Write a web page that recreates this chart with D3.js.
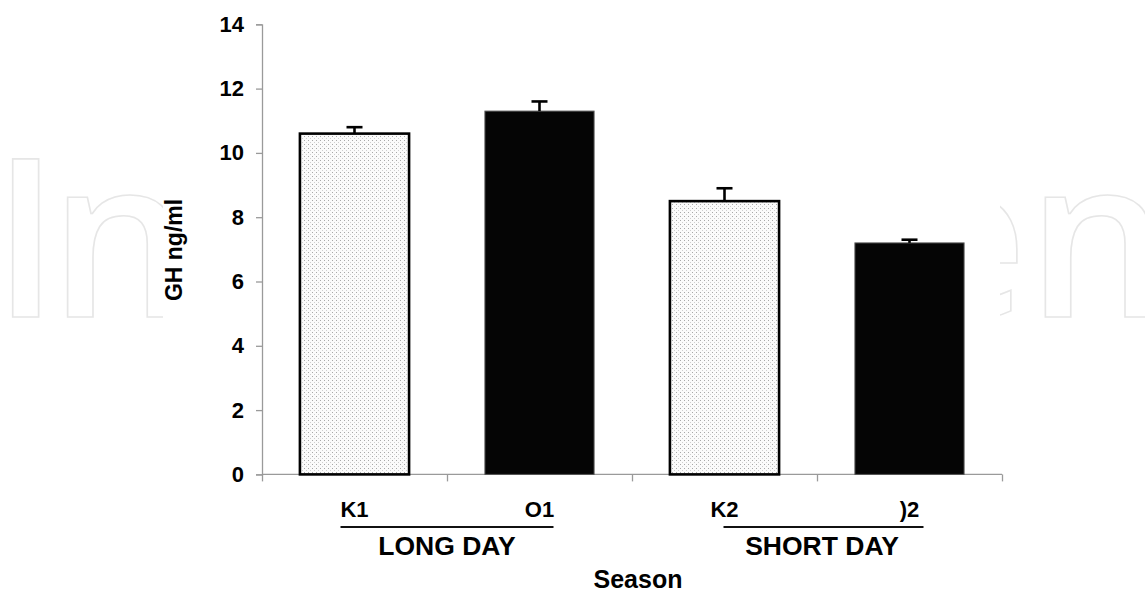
<!DOCTYPE html>
<html><head><meta charset="utf-8">
<script src="https://cdn.jsdelivr.net/npm/d3@7"></script>
<style>body{margin:0;background:#fff}svg{display:block}</style>
</head><body>
<script>
const categories = ["K1", "O1", "K2", ")2"];
const values = [10.6, 11.3, 8.5, 7.2];
const errors = [0.2, 0.3, 0.4, 0.1];
const fills = ["dots", "solid", "dots", "solid"];
const groups = [
  {label: "LONG DAY", from: 0, to: 1},
  {label: "SHORT DAY", from: 2, to: 3}
];
const yTicks = [0, 2, 4, 6, 8, 10, 12, 14];
const yTitle = "GH ng/ml";
const xTitle = "Season";

const W = 1145, H = 593;
const svg = d3.select("body").append("svg").attr("width", W).attr("height", H);
const defs = svg.append("defs");
const pat = defs.append("pattern").attr("id", "dots").attr("patternUnits", "userSpaceOnUse")
  .attr("width", 4).attr("height", 4);
pat.append("rect").attr("width", 4).attr("height", 4).attr("fill", "#fbfbfb");
pat.append("rect").attr("x", 0).attr("y", 0).attr("width", 1).attr("height", 1).attr("fill", "#a8a8a8");
pat.append("rect").attr("x", 2).attr("y", 2).attr("width", 1).attr("height", 1).attr("fill", "#cfcfcf");
defs.append("clipPath").attr("id", "page").append("rect").attr("width", W).attr("height", H);

// watermark
const wm = svg.append("g").attr("clip-path", "url(#page)").attr("fill", "none").attr("stroke", "#e6e6e6").attr("stroke-width", 1.6)
  .style("font-family", "'Open Sans', sans-serif").style("font-weight", 600).style("font-size", "221px");
wm.append("text").attr("x", -8).attr("y", 317).style("letter-spacing", "-10px").text("In");
wm.append("text").attr("x", 900).attr("y", 317).text("en");
svg.append("rect").attr("x", 163).attr("y", 0).attr("width", 837).attr("height", H).attr("fill", "#fff");

const x0 = 262, x1 = 1002, yTop = 24.3, yBot = 474.4;
const x = d3.scaleBand().domain(categories).range([x0, x1]).padding(0);
const xi = d3.scaleLinear().domain([0, categories.length]).range([x0, x1]);
const y = d3.scaleLinear().domain([0, 14]).range([yBot, yTop]);
const font = "'Liberation Sans', Arial, sans-serif";

// y axis
const ya = svg.append("g").attr("transform", `translate(${x0},0)`)
  .call(d3.axisLeft(y).tickValues(yTicks).tickSize(6).tickPadding(12).tickFormat(d3.format("d")));
ya.select(".domain").attr("stroke", "#9a9a9a").attr("stroke-width", 1.3);
ya.selectAll(".tick line").attr("stroke", "#9a9a9a").attr("stroke-width", 1.3);
ya.selectAll(".tick text").attr("fill", "#000").style("font-family", font).style("font-weight", "bold").style("font-size", "22px");

// x axis
const xa = svg.append("g").attr("transform", `translate(0,${yBot})`)
  .call(d3.axisBottom(xi).tickValues(d3.range(categories.length + 1)).tickSize(7).tickFormat(""));
xa.select(".domain").attr("stroke", "#9a9a9a").attr("stroke-width", 1.3).attr("d", `M${x0},0H${x1}`);
xa.selectAll(".tick line").attr("stroke", "#9a9a9a").attr("stroke-width", 1.3);

// bars
const bw = x.bandwidth() * 0.59;
const bars = svg.append("g");
categories.forEach((c, i) => {
  const cx = x(c) + x.bandwidth() / 2;
  const top = y(values[i]);
  if (fills[i] === "dots") {
    bars.append("rect").attr("x", cx - bw / 2).attr("y", top).attr("width", bw).attr("height", y(0) - top)
      .attr("fill", "url(#dots)").attr("stroke", "#000").attr("stroke-width", 2.6);
  } else {
    bars.append("rect").attr("x", cx - bw / 2).attr("y", top).attr("width", bw).attr("height", y(0) - top)
      .attr("fill", "#050505").attr("stroke", "#555").attr("stroke-width", 1);
  }
  const et = y(values[i] + errors[i]);
  bars.append("line").attr("x1", cx).attr("x2", cx).attr("y1", top).attr("y2", et)
    .attr("stroke", "#000").attr("stroke-width", 2.6);
  bars.append("line").attr("x1", cx - 8).attr("x2", cx + 8).attr("y1", et).attr("y2", et)
    .attr("stroke", "#000").attr("stroke-width", 2.6);
});

// category labels
svg.append("g").selectAll("text").data(categories).join("text")
  .attr("x", d => x(d) + x.bandwidth() / 2).attr("y", 517).attr("text-anchor", "middle")
  .style("font-family", font).style("font-weight", "bold").style("font-size", "22px").text(d => d);

// group lines and labels
const gg = svg.append("g");
groups.forEach(g => {
  const a = x(categories[g.from]) + x.bandwidth() / 2 - 14;
  const b = x(categories[g.to]) + x.bandwidth() / 2 + 14;
  gg.append("line").attr("x1", a + (g.from === 2 ? 13 : 0)).attr("x2", b).attr("y1", 527).attr("y2", 527)
    .attr("stroke", "#111").attr("stroke-width", 2);
  gg.append("text").attr("x", (a + b) / 2 + (g.from === 2 ? 5 : 0)).attr("y", 555).attr("text-anchor", "middle")
    .style("font-family", font).style("font-weight", "bold").style("font-size", "26.5px").text(g.label);
});

// titles
svg.append("text").attr("x", 638).attr("y", 588).attr("text-anchor", "middle")
  .style("font-family", font).style("font-weight", "bold").style("font-size", "25px").text(xTitle);
svg.append("text").attr("transform", "translate(182,250) rotate(-90)").attr("text-anchor", "middle")
  .style("font-family", font).style("font-weight", "bold").style("font-size", "23px").text(yTitle);
</script>
</body></html>
